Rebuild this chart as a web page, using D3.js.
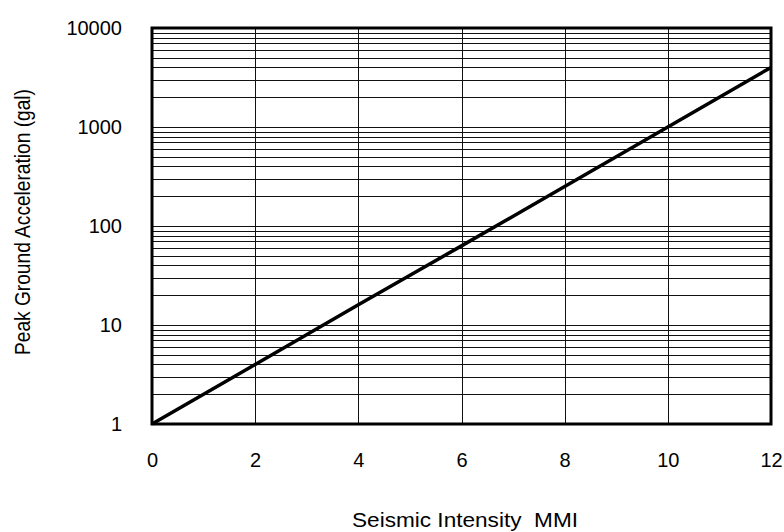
<!DOCTYPE html>
<html>
<head>
<meta charset="utf-8">
<script src="https://cdn.jsdelivr.net/npm/d3@7"></script>
<style>
body { margin: 0; background: #fff; }
svg { font-family: "Liberation Sans", Arial, sans-serif; }
</style>
</head>
<body>
<div id="chart"></div>
<script>
// intensity (MMI) and peak ground acceleration (gal)
var mmi = [0, 2, 4, 6, 8, 10, 12];
var pga = [1, 4, 16, 63, 250, 1000, 4000];

var xTicks = [0, 2, 4, 6, 8, 10, 12];
var yTicks = [1, 10, 100, 1000, 10000];

var width = 784, height = 532;
var mLeft = 152, mRight = 771, mTop = 28, mBottom = 424;

var svg = d3.select("#chart").append("svg")
  .attr("width", width)
  .attr("height", height);

var x = d3.scaleLinear().domain([0, 12]).range([mLeft, mRight]);
var y = d3.scaleLog().domain([1, 10000]).range([mBottom, mTop]);

// minor grid lines for the log axis
var minor = [];
for (var d = 1; d < 10000; d *= 10) {
  for (var k = 2; k <= 9; k++) minor.push(d * k);
}
minor = minor.concat(yTicks.slice(1, -1));

svg.append("g")
  .selectAll("line")
  .data(minor)
  .enter()
  .append("line")
  .attr("x1", mLeft)
  .attr("x2", mRight)
  .attr("y1", d => Math.round(y(d)) + 0.5)
  .attr("y2", d => Math.round(y(d)) + 0.5)
  .attr("stroke", "#111")
  .attr("stroke-width", 1);

svg.append("g")
  .selectAll("line")
  .data(xTicks.slice(1, -1))
  .enter()
  .append("line")
  .attr("x1", d => Math.round(x(d)) + 0.5)
  .attr("x2", d => Math.round(x(d)) + 0.5)
  .attr("y1", mTop)
  .attr("y2", mBottom)
  .attr("stroke", "#111")
  .attr("stroke-width", 1);

// axes (labels only, frame drawn separately)
var xAxis = d3.axisBottom(x).tickValues(xTicks).tickSize(0).tickPadding(29).tickFormat(d3.format("d"));
var yAxis = d3.axisLeft(y).tickValues(yTicks).tickSize(0).tickPadding(30).tickFormat(d3.format("d"));

var gx = svg.append("g")
  .attr("transform", "translate(0," + mBottom + ")")
  .call(xAxis);
gx.select(".domain").remove();
gx.selectAll("text").attr("font-size", 20).attr("fill", "#000").attr("font-family", "Liberation Sans, Arial, sans-serif");

var gy = svg.append("g")
  .attr("transform", "translate(" + mLeft + ",0)")
  .call(yAxis);
gy.select(".domain").remove();
gy.selectAll("text").attr("font-size", 20).attr("fill", "#000").attr("font-family", "Liberation Sans, Arial, sans-serif");

// data line
var line = d3.line()
  .x((d, i) => x(mmi[i]))
  .y(d => y(d));

svg.append("path")
  .attr("d", line(pga))
  .attr("fill", "none")
  .attr("stroke", "#000")
  .attr("stroke-width", 3.5);

// frame
svg.append("rect")
  .attr("x", mLeft)
  .attr("y", mTop)
  .attr("width", mRight - mLeft)
  .attr("height", mBottom - mTop)
  .attr("fill", "none")
  .attr("stroke", "#000")
  .attr("stroke-width", 3);

// titles
svg.append("text")
  .attr("x", 465)
  .attr("y", 527)
  .attr("text-anchor", "middle")
  .attr("font-size", 21)
  .attr("textLength", 226)
  .attr("lengthAdjust", "spacingAndGlyphs")
  .style("white-space", "pre")
  .text("Seismic Intensity  MMI");

svg.append("text")
  .attr("transform", "translate(30,222) rotate(-90)")
  .attr("text-anchor", "middle")
  .attr("font-size", 22)
  .attr("textLength", 266)
  .attr("lengthAdjust", "spacingAndGlyphs")
  .text("Peak Ground Acceleration (gal)");
</script>
</body>
</html>
